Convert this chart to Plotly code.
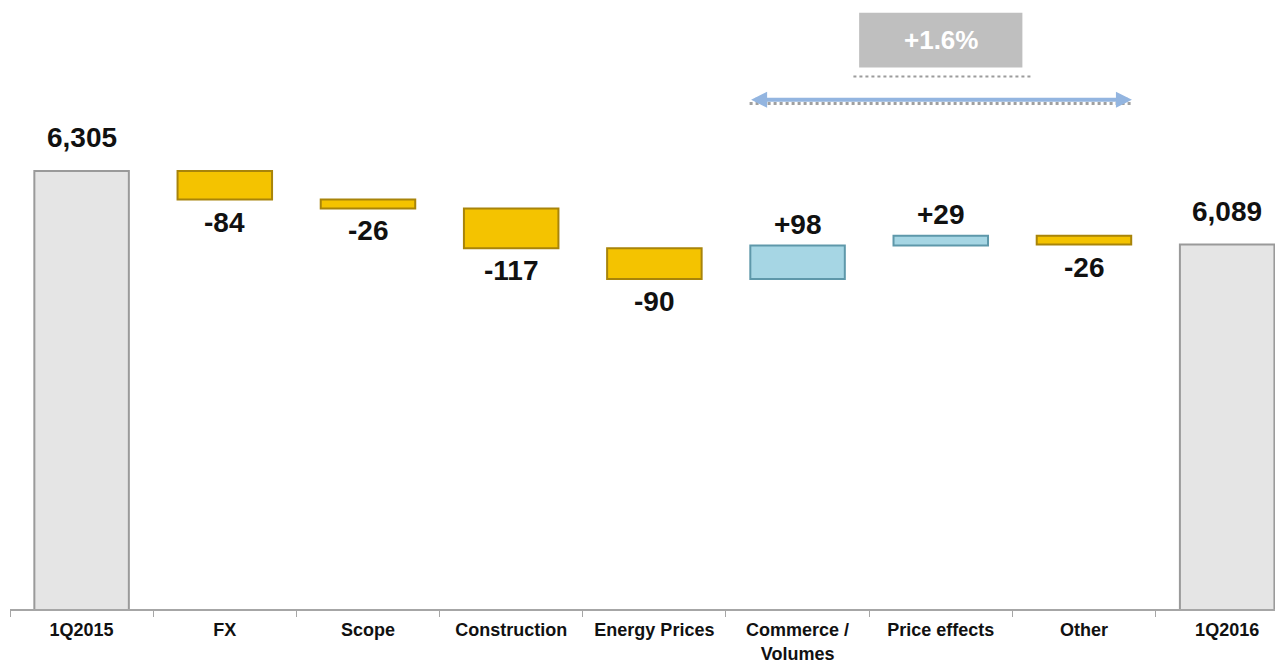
import plotly.graph_objects as go

categories = ["1Q2015", "FX", "Scope", "Construction", "Energy Prices",
              "Commerce /<br>Volumes", "Price effects", "Other", "1Q2016"]
measures = ["absolute", "relative", "relative", "relative", "relative",
            "relative", "relative", "relative", "total"]
values = [6305, -84, -26, -117, -90, 98, 29, -26, 0]
label_texts = ["6,305", "-84", "-26", "-117", "-90", "+98", "+29", "-26", "6,089"]
growth_text = "+1.6%"
growth_span = ["Commerce /<br>Volumes", "Other"]

GOLD = "#F4C300"
GOLD_EDGE = "#A8840A"
BLUE = "#A6D6E4"
BLUE_EDGE = "#5E98AA"
GREY = "#E5E5E5"
GREY_EDGE = "#9A9A9A"
FONT = "Liberation Sans, Arial, sans-serif"

fig = go.Figure()
fig.add_trace(go.Waterfall(
    x=categories, y=values, measure=measures,
    width=0.66,
    increasing=dict(marker=dict(color=BLUE, line=dict(color=BLUE_EDGE, width=2))),
    decreasing=dict(marker=dict(color=GOLD, line=dict(color=GOLD_EDGE, width=2))),
    totals=dict(marker=dict(color=GREY, line=dict(color=GREY_EDGE, width=2))),
    connector=dict(visible=False),
    showlegend=False, hoverinfo="skip",
))

# cumulative ends for labels
ends = []
run = 0
for m, v in zip(measures, values):
    if m == "absolute":
        run = v
    elif m == "relative":
        run += v
    ends.append(run)

label_font = dict(family=FONT, size=28, color="#111111")
for cat, m, v, end, t in zip(categories, measures, values, ends, label_texts):
    if m in ("absolute", "total"):
        fig.add_annotation(x=cat, y=end, text=f"<b>{t}</b>", showarrow=False,
                           yanchor="bottom", yshift=16, font=label_font)
    elif v < 0:
        fig.add_annotation(x=cat, y=end, text=f"<b>{t}</b>", showarrow=False,
                           yanchor="top", yshift=-5, font=label_font)
    else:
        fig.add_annotation(x=cat, y=end, text=f"<b>{t}</b>", showarrow=False,
                           yanchor="bottom", yshift=4, font=label_font)

# growth box and double arrow
i0 = categories.index(growth_span[0])
i1 = categories.index(growth_span[1])
mid = (i0 + i1) / 2
half = 0.335
fig.add_shape(type="rect", xref="x", yref="paper", x0=mid - 0.57, x1=mid + 0.57,
              y0=0.901, y1=0.992, fillcolor="#BFBFBF", line=dict(width=0), layer="above")
fig.add_shape(type="line", xref="x", yref="paper", x0=mid - 0.61, x1=mid + 0.64,
              y0=0.886, y1=0.886, line=dict(color="#9C9C9C", width=2, dash="dot"))
fig.add_annotation(x=mid, y=0.946, xref="x", yref="paper", text=f"<b>{growth_text}</b>",
                   showarrow=False, xanchor="center", yanchor="middle",
                   font=dict(family=FONT, size=26, color="white"))
fig.add_shape(type="line", xref="x", yref="paper", x0=i0 - half, x1=i1 + half,
              y0=0.841, y1=0.841, line=dict(color="#A0A0A0", width=3, dash="dot"))
arrow_y = 6514
fig.add_annotation(x=i1 + half, y=arrow_y, ax=i0 - half, ay=arrow_y,
                   xref="x", yref="y", axref="x", ayref="y", text="",
                   showarrow=True, arrowhead=2, arrowside="end+start",
                   arrowsize=0.8, arrowwidth=4, arrowcolor="#93B5E0")

fig.update_layout(
    width=1275, height=656,
    margin=dict(l=2, r=0, t=0, b=52),
    paper_bgcolor="white", plot_bgcolor="white",
    xaxis=dict(showline=True, linecolor="#A6A6A6", linewidth=1.5,
               range=[-0.5, 8.39],
               ticks="outside", tickson="boundaries", ticklen=6, tickcolor="#A6A6A6",
               ticklabelstandoff=4,
               tickfont=dict(family=FONT, size=18, color="#111111"),
               tickprefix="<b>", ticksuffix="</b>", showgrid=False),
    yaxis=dict(visible=False, range=[5020, 6783], showgrid=False),
)

fig.write_html("out.html")
